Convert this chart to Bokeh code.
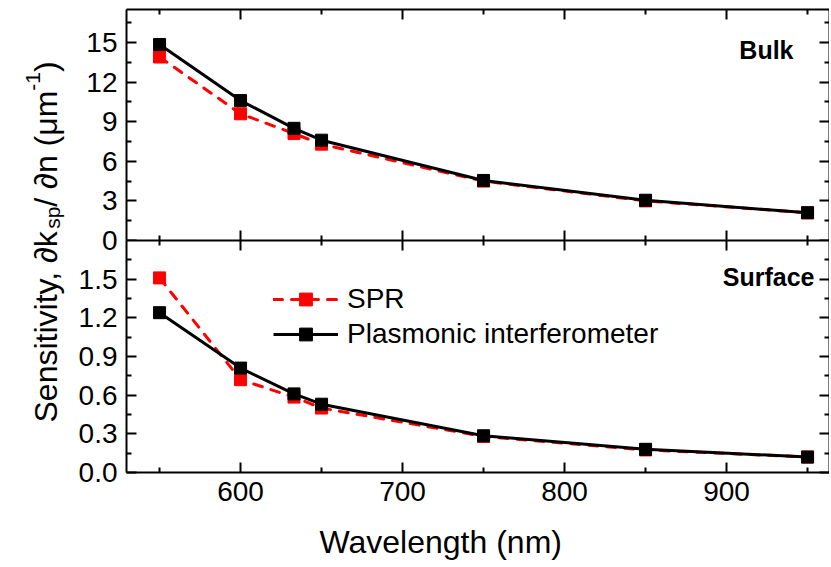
import math
from bokeh.plotting import figure
from bokeh.models import (Range1d, FixedTicker, LinearAxis, Label, Legend, LegendItem, Title,
                          NumeralTickFormatter, BasicTickFormatter, ColumnDataSource)
from bokeh.layouts import row, column
from bokeh.embed import file_html
from bokeh.resources import INLINE
from bokeh.core.properties import value

# ---------------- data ----------------
wavelength = [550, 600, 633, 650, 750, 850, 950]
bulk_spr = [13.9, 9.6, 8.1, 7.3, 4.5, 3.0, 2.1]
bulk_pi = [14.85, 10.6, 8.5, 7.6, 4.55, 3.05, 2.1]
surf_spr = [1.51, 0.72, 0.585, 0.50, 0.28, 0.175, 0.12]
surf_pi = [1.24, 0.81, 0.61, 0.53, 0.285, 0.18, 0.12]

x_major = [600, 700, 800, 900]
x_minor = [550, 650, 750, 850, 950]
bulk_major = [0, 3, 6, 9, 12, 15]
bulk_minor = [1.5, 4.5, 7.5, 10.5, 13.5, 16.5]
surf_major = [0.0, 0.3, 0.6, 0.9, 1.2, 1.5]
surf_minor = [0.15, 0.45, 0.75, 1.05, 1.35, 1.65]
BULK_MAX = 17.5
SURF_MAX = 1.8

series_names = ["SPR", "Plasmonic interferometer"]
panel_names = ["Bulk", "Surface"]
x_title = "Wavelength (nm)"
# y title pieces: (text, font size px, baseline shift px; + = subscript)
y_title_parts = [("Sensitivity, \u2202k", 32, 0), ("sp", 21, 7),
                 ("/ \u2202n (\u03bcm", 32, 0), ("-1", 21, -13), (")", 32, 0)]

FONT = "Liberation Sans"
RED = "#ff0000"
BLACK = "#000000"

FRAME_W = 703
X_RANGE = (529.6, 529.6 + FRAME_W / 1.62)
LEFT_B = 58
TITLE_W = 68
TOP_B = 9
H1, H2 = 231, 232
OVERLAP = 12          # top panel canvas reaches under the bottom panel so its "0" label is whole
TOTAL_H = 559


def add_axes(p, yticks, yminor, yfmt, show_x_labels):
    def common(ax):
        ax.axis_line_width = 2
        ax.axis_line_color = BLACK
        ax.major_tick_line_width = 2
        ax.minor_tick_line_width = 2
        ax.major_tick_line_color = BLACK
        ax.minor_tick_line_color = BLACK
        ax.major_tick_in = 10
        ax.major_tick_out = 0
        ax.minor_tick_in = 5
        ax.minor_tick_out = 0
        ax.major_label_text_font = FONT
        ax.major_label_text_font_size = "28px"
        ax.major_label_text_color = BLACK

    def hide(ax):
        ax.major_label_text_font_size = "0px"
        ax.major_label_text_color = None
        ax.major_label_standoff = 0

    for side in ["below", "above"]:
        ax = LinearAxis(ticker=FixedTicker(ticks=x_major, minor_ticks=x_minor))
        common(ax)
        if side == "below" and show_x_labels:
            ax.major_label_standoff = 9
        else:
            hide(ax)
        p.add_layout(ax, side)
    for side in ["left", "right"]:
        ax = LinearAxis(ticker=FixedTicker(ticks=yticks, minor_ticks=yminor), formatter=yfmt)
        common(ax)
        if side == "left":
            ax.major_label_standoff = 9
        else:
            hide(ax)
        p.add_layout(ax, side)


def make_panel(frame_h, y_end, top_b, bottom_b):
    p = figure(frame_width=FRAME_W, frame_height=frame_h, title=None,
               x_range=Range1d(*X_RANGE), y_range=Range1d(0, y_end),
               x_axis_location=None, y_axis_location=None,
               min_border_left=LEFT_B, min_border_right=0,
               min_border_top=top_b, min_border_bottom=bottom_b,
               toolbar_location=None, output_backend="svg")
    p.outline_line_color = None
    p.background_fill_color = "white"
    p.border_fill_color = "white"
    p.grid.visible = False
    return p


def draw_series(p, yvals_spr, yvals_pi):
    src_spr = ColumnDataSource(dict(x=wavelength, y=yvals_spr))
    src_pi = ColumnDataSource(dict(x=wavelength, y=yvals_pi))
    l1 = p.line("x", "y", source=src_spr, line_color=RED, line_width=3,
                line_dash="9 9", line_cap="round")
    m1 = p.scatter("x", "y", source=src_spr, marker="square", size=12,
                   fill_color=RED, line_color=RED, line_width=1)
    l2 = p.line("x", "y", source=src_pi, line_color=BLACK, line_width=3)
    m2 = p.scatter("x", "y", source=src_pi, marker="square", size=12,
                   fill_color=BLACK, line_color=BLACK, line_width=1)
    return (l1, m1), (l2, m2)


# ---------------- top panel (Bulk) ----------------
p1 = make_panel(H1, BULK_MAX, TOP_B, OVERLAP)
p1.margin = (0, 0, -OVERLAP, 0)
p1.align = "start"
add_axes(p1, bulk_major, bulk_minor, BasicTickFormatter(), False)
draw_series(p1, bulk_spr, bulk_pi)
p1.add_layout(Label(x=667, y=177, x_units="screen", y_units="screen",
                    text=panel_names[0], text_font=FONT, text_font_size="25px",
                    text_font_style="bold", text_align="right", text_color=BLACK))

# ---------------- bottom panel (Surface) ----------------
p2 = make_panel(H2, SURF_MAX, 0, 0)
p2.align = "start"
p2.border_fill_alpha = 0
add_axes(p2, surf_major, surf_minor, NumeralTickFormatter(format="0.0"), True)
(spr_l, spr_m), (pi_l, pi_m) = draw_series(p2, surf_spr, surf_pi)
p2.add_layout(Label(x=688, y=182, x_units="screen", y_units="screen",
                    text=panel_names[1], text_font=FONT, text_font_size="25px",
                    text_font_style="bold", text_align="right", text_color=BLACK))
p2.add_layout(Title(text=x_title, align="left", offset=193, standoff=36,
                    text_font=FONT, text_font_size="32px", text_font_style="normal",
                    text_color=BLACK), "below")

legend = Legend(items=[LegendItem(label=series_names[0], renderers=[spr_l, spr_m]),
                       LegendItem(label=series_names[1], renderers=[pi_l, pi_m])],
                location=(147, 122), glyph_width=65, glyph_height=32, label_height=32,
                spacing=3, padding=0, margin=0, label_standoff=9,
                border_line_color=None, background_fill_alpha=0,
                label_text_font=FONT, label_text_font_size="28px",
                label_text_color=BLACK)
p2.add_layout(legend)

# ---------------- y title figure ----------------
p0 = figure(width=TITLE_W, height=TOTAL_H, title=None, x_range=Range1d(0, TITLE_W),
            y_range=Range1d(0, TOTAL_H),
            x_axis_location=None, y_axis_location=None, min_border=0,
            toolbar_location=None, output_backend="svg")
p0.outline_line_color = None
p0.grid.visible = False
p0.align = "start"

ADV = {"S": 667, "e": 556, "n": 556, "s": 500, "i": 222, "t": 278, "v": 500, "y": 500,
       ",": 278, " ": 278, "\u2202": 494, "k": 500, "p": 556, "/": 278, "(": 333,
       ")": 333, "\u03bc": 576, "m": 833, "-": 333, "1": 556}
base_x, start_y = 45, TOTAL_H - 422
xs, ys, texts, sizes = [], [], [], []
pos = start_y
for txt, fs, shift in y_title_parts:
    xs.append(base_x + shift)
    ys.append(pos)
    texts.append(txt)
    sizes.append(f"{fs}px")
    pos += sum(ADV.get(c, 556) for c in txt) * fs / 1000.0
src_t = ColumnDataSource(dict(x=xs, y=ys, text=texts, size=sizes))
p0.text("x", "y", text="text", source=src_t, angle=math.pi / 2,
        text_font=value(FONT), text_font_size="size", text_align="left",
        text_baseline="alphabetic", text_color=BLACK)

layout = row(p0, column(p1, p2))
open("out.html", "w").write(file_html(layout, INLINE))
